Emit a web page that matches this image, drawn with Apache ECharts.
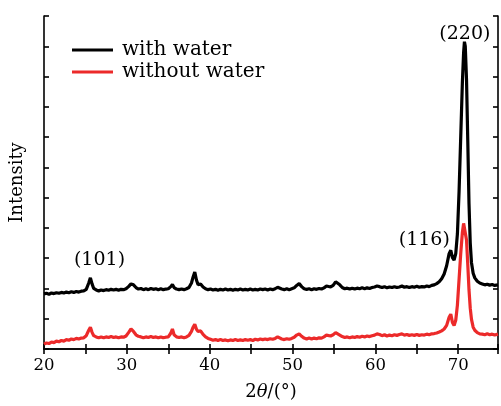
<!DOCTYPE html>
<html><head><meta charset="utf-8">
<script src="https://cdn.jsdelivr.net/npm/echarts@6/dist/echarts.min.js"></script>
<style>html,body{margin:0;padding:0;background:#fff}#c{width:501px;height:406px}</style>
</head><body><div id="c"></div>
<script>
// ---- data (2θ in degrees, intensity in arbitrary units) ----
const withWaterAngle = [20.0,20.3,20.6,20.9,21.2,21.5,21.8,22.1,22.4,22.7,23.0,23.3,23.6,23.9,24.2,24.5,24.8,25.1,25.4,25.6,25.8,26.0,26.3,26.6,26.9,27.2,27.5,27.8,28.1,28.4,28.7,29.0,29.3,29.6,29.9,30.2,30.5,30.8,31.1,31.4,31.7,32.0,32.3,32.6,32.9,33.2,33.5,33.8,34.1,34.4,34.7,35.0,35.3,35.5,35.7,36.0,36.3,36.6,36.9,37.2,37.5,37.8,38.0,38.2,38.4,38.6,38.9,39.2,39.5,39.8,40.1,40.4,40.7,41.0,41.3,41.6,41.9,42.2,42.5,42.8,43.1,43.4,43.7,44.0,44.3,44.6,44.9,45.2,45.5,45.8,46.1,46.4,46.7,47.0,47.3,47.6,47.9,48.2,48.4,48.7,49.0,49.3,49.6,49.9,50.2,50.5,50.8,51.1,51.4,51.7,52.0,52.3,52.6,52.9,53.2,53.5,53.8,54.1,54.3,54.6,54.9,55.2,55.4,55.7,56.0,56.3,56.6,56.9,57.2,57.5,57.8,58.1,58.4,58.7,59.0,59.3,59.6,59.9,60.2,60.5,60.8,61.1,61.4,61.7,62.0,62.3,62.6,62.9,63.2,63.5,63.8,64.1,64.4,64.7,65.0,65.3,65.6,65.9,66.2,66.5,66.8,67.1,67.4,67.7,68.0,68.3,68.6,68.9,69.1,69.3,69.5,69.7,69.9,70.1,70.3,70.5,70.65,70.75,70.85,71.0,71.15,71.3,71.45,71.6,71.8,72.0,72.3,72.6,72.9,73.2,73.5,73.8,74.1,74.4,74.8];
const withWaterValue = [1.82,1.84,1.81,1.85,1.83,1.86,1.84,1.87,1.85,1.88,1.86,1.89,1.87,1.90,1.88,1.91,1.92,1.97,2.18,2.35,2.15,2.00,1.95,1.92,1.95,1.93,1.96,1.94,1.97,1.95,1.97,1.94,1.97,1.96,1.99,2.06,2.15,2.12,2.03,1.98,2.00,1.96,1.99,1.96,2.00,1.97,1.99,1.96,1.99,1.96,1.98,1.99,2.06,2.13,2.03,1.98,1.96,1.98,1.96,1.99,2.03,2.18,2.38,2.54,2.28,2.12,2.15,2.05,1.99,1.96,1.98,1.95,1.97,1.94,1.97,1.95,1.98,1.95,1.97,1.94,1.97,1.95,1.98,1.95,1.97,1.95,1.98,1.95,1.97,1.95,1.98,1.96,1.98,1.95,1.98,1.96,1.99,2.04,2.03,1.98,1.96,1.99,1.96,1.99,2.02,2.10,2.16,2.06,1.99,1.97,1.99,1.96,1.99,1.97,2.00,1.98,2.02,2.08,2.12,2.05,2.10,2.22,2.25,2.12,2.03,1.99,2.01,1.98,2.01,1.98,2.01,1.99,2.02,1.99,2.02,2.00,2.03,2.05,2.08,2.06,2.03,2.06,2.02,2.05,2.03,2.06,2.03,2.05,2.08,2.04,2.06,2.03,2.06,2.04,2.07,2.04,2.06,2.05,2.08,2.06,2.10,2.12,2.16,2.22,2.32,2.48,2.75,3.15,3.26,3.02,2.94,3.15,3.8,5.2,7.0,8.8,9.8,10.15,10.0,8.9,6.9,4.8,3.5,2.85,2.5,2.35,2.24,2.18,2.15,2.12,2.14,2.11,2.13,2.10,2.12];
const withoutWaterAngle = withWaterAngle;
const withoutWaterValue = [0.16,0.20,0.18,0.23,0.21,0.26,0.24,0.28,0.26,0.31,0.29,0.33,0.31,0.35,0.33,0.36,0.37,0.44,0.62,0.72,0.55,0.44,0.40,0.37,0.40,0.37,0.40,0.38,0.41,0.38,0.40,0.37,0.40,0.39,0.43,0.54,0.66,0.58,0.47,0.42,0.40,0.37,0.40,0.38,0.41,0.38,0.40,0.37,0.40,0.37,0.39,0.40,0.52,0.66,0.47,0.40,0.38,0.40,0.37,0.40,0.45,0.58,0.72,0.82,0.65,0.58,0.60,0.48,0.40,0.35,0.32,0.29,0.31,0.28,0.31,0.28,0.30,0.27,0.30,0.28,0.31,0.28,0.30,0.28,0.31,0.29,0.31,0.28,0.32,0.30,0.33,0.31,0.33,0.31,0.34,0.32,0.35,0.40,0.38,0.33,0.31,0.34,0.32,0.35,0.39,0.46,0.50,0.42,0.36,0.33,0.36,0.33,0.36,0.34,0.37,0.36,0.40,0.46,0.48,0.43,0.47,0.54,0.56,0.46,0.41,0.38,0.40,0.37,0.40,0.38,0.41,0.39,0.42,0.40,0.43,0.41,0.44,0.46,0.50,0.48,0.44,0.47,0.43,0.46,0.44,0.47,0.45,0.48,0.50,0.46,0.48,0.45,0.47,0.45,0.48,0.45,0.47,0.46,0.49,0.47,0.50,0.51,0.53,0.56,0.60,0.66,0.78,1.05,1.15,0.88,0.78,0.95,1.45,2.3,3.15,3.85,4.15,4.21,4.12,3.6,2.8,1.95,1.35,0.98,0.72,0.62,0.54,0.50,0.49,0.47,0.50,0.47,0.49,0.46,0.49];
const seriesNames = ['with water', 'without water'];
const xTicks = [20, 30, 40, 50, 60, 70];
const peakLabels = ['(101)', '(116)', '(220)'];
const peakLabelAngle = [26.7, 65.9, 70.8];
const peakLabelValue = [2.94, 3.59, 10.4];

const FONT = 'DejaVu Serif';
const zip = (a, b) => a.map((x, i) => [x, b[i]]);
const chart = echarts.init(document.getElementById('c'), null, {renderer: 'canvas'});
const axisLine = {show: true, lineStyle: {color: '#000', width: 1.6}};
const option = {
  animation: false,
  grid: {left: 43, top: 16, width: 457, height: 337, containLabel: false},
  legend: {
    data: seriesNames, orient: 'vertical', left: 67, top: 35,
    icon: 'rect', itemWidth: 41, itemHeight: 3, itemGap: 2,
    textStyle: {fontFamily: FONT, fontSize: 20, color: '#000', lineHeight: 20, padding: [0, 0, 0, 4]}
  },
  xAxis: [{
    type: 'value', min: 20, max: 74.8, interval: 5, position: 'bottom',
    axisLine, splitLine: {show: false},
    axisTick: {show: true, inside: true, length: 5, lineStyle: {color: '#000', width: 1.6}},
    axisLabel: {fontFamily: FONT, fontSize: 16.5, color: '#000', margin: 8,
      formatter: v => xTicks.includes(v) ? String(v) : ''},
    name: '2{i|θ}/(°)', nameLocation: 'middle', nameGap: 34,
    nameTextStyle: {fontFamily: FONT, fontSize: 18, color: '#000',
      rich: {i: {fontFamily: FONT, fontStyle: 'italic', fontSize: 18, color: '#000'}}}
  }, {
    type: 'value', min: 20, max: 74.8, interval: 5, position: 'top',
    axisLine, splitLine: {show: false}, axisLabel: {show: false},
    axisTick: {show: true, inside: true, length: 5, lineStyle: {color: '#000', width: 1.6}}
  }],
  yAxis: [{
    type: 'value', min: 0, max: 11, interval: 1, position: 'left',
    axisLine, splitLine: {show: false}, axisLabel: {show: false},
    axisTick: {show: true, inside: true, length: 5, lineStyle: {color: '#000', width: 1.6}},
    name: 'Intensity', nameLocation: 'middle', nameGap: 18,
    nameTextStyle: {fontFamily: FONT, fontSize: 18, color: '#000'}
  }, {
    type: 'value', min: 0, max: 11, interval: 1, position: 'right',
    axisLine, splitLine: {show: false}, axisLabel: {show: false},
    axisTick: {show: true, inside: true, length: 5, lineStyle: {color: '#000', width: 1.6}}
  }],
  series: [
    {name: seriesNames[0], type: 'line', data: zip(withWaterAngle, withWaterValue),
     showSymbol: false, symbol: 'none', color: '#000', lineStyle: {color: '#000', width: 3.2}, z: 3},
    {name: seriesNames[1], type: 'line', data: zip(withoutWaterAngle, withoutWaterValue),
     showSymbol: false, symbol: 'none', color: '#ec2a2a', lineStyle: {color: '#ec2a2a', width: 3.2}, z: 2}
  ]
};
chart.setOption(option);
const texts = peakLabels.map((t, i) => {
  const p = chart.convertToPixel({xAxisIndex: 0, yAxisIndex: 0}, [peakLabelAngle[i], peakLabelValue[i]]);
  return {type: 'text', x: p[0], y: p[1], z: 10,
    style: {text: t, fontFamily: FONT, fontSize: 19, fill: '#000', align: 'center', verticalAlign: 'middle'}};
});
chart.setOption({graphic: texts});
</script></body></html>
